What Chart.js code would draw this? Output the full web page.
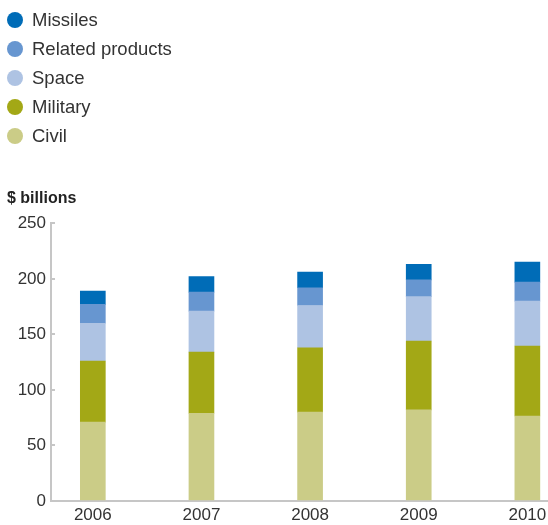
<!DOCTYPE html>
<html>
<head>
<meta charset="utf-8">
<title>$ billions</title>
<script src="https://cdn.jsdelivr.net/npm/chart.js@4.4.1/dist/chart.umd.min.js"></script>
<style>
  html, body { margin: 0; padding: 0; background: #fff; }
  #wrap { position: relative; width: 548px; height: 525px; }
  #chart { position: absolute; left: 0; top: 0; }
  #legend { position: absolute; left: 7px; top: 0; font-family: "Liberation Sans", Arial, sans-serif; font-size: 18.5px; color: #333; }
  .item { position: absolute; left: 0; height: 20px; display: flex; align-items: center; white-space: nowrap; }
  .dot { width: 16px; height: 16px; border-radius: 50%; margin-right: 9px; }
</style>
</head>
<body>
<div id="wrap">
  <canvas id="chart" width="548" height="525"></canvas>
  <div id="legend"></div>
</div>
<script>
const years = ['2006', '2007', '2008', '2009', '2010'];
const civil = [71, 79, 80, 82, 76.5];
const military = [55, 55, 58, 62, 63];
const space = [34, 37, 38, 40, 40.5];
const related = [17, 17, 16, 15, 17];
const missiles = [12, 14, 14, 14, 18];
const yTicks = [0, 50, 100, 150, 200, 250];

// stacking order, bottom to top
const seriesNames = ['Civil', 'Military', 'Space', 'Related products', 'Missiles'];
const seriesValues = [civil, military, space, related, missiles];
const seriesColors = ['#cbcc87', '#a3a816', '#aec3e3', '#6796d0', '#006cb7'];

const FONT = '"Liberation Sans", Arial, sans-serif';
const AXIS = '#c6c6c6';

// legend lists the top segment first
const legend = document.getElementById('legend');
seriesNames.slice().reverse().forEach((name, i) => {
    const k = seriesNames.length - 1 - i;
    const item = document.createElement('div');
    item.className = 'item';
    item.style.top = (10 + i * 29) + 'px';
    const dot = document.createElement('span');
    dot.className = 'dot';
    dot.style.background = seriesColors[k];
    item.appendChild(dot);
    item.appendChild(document.createTextNode(name));
    legend.appendChild(item);
});

const datasets = seriesNames.map((name, k) => ({
    label: name,
    data: seriesValues[k].map((v, i) => ({ x: i, y: v })),
    backgroundColor: seriesColors[k],
    borderWidth: 0,
    barThickness: 25
}));

new Chart(document.getElementById('chart').getContext('2d'), {
    type: 'bar',
    data: { datasets },
    options: {
        responsive: false,
        animation: false,
        layout: { padding: { left: 7, top: 176, right: 0, bottom: 0 } },
        plugins: {
            legend: { display: false },
            tooltip: { enabled: false },
            title: {
                display: true,
                text: '$ billions',
                align: 'start',
                color: '#222',
                font: { family: FONT, size: 16, weight: 'bold' },
                padding: { top: 13.4, bottom: 14.7 }
            }
        },
        scales: {
            x: {
                type: 'linear',
                stacked: true,
                offset: false,
                min: -0.385,
                max: 4.19,
                grid: { drawOnChartArea: false, drawTicks: false },
                border: { color: AXIS, width: 2 },
                afterBuildTicks: s => { s.ticks = years.map((_, i) => ({ value: i })); },
                afterFit: s => { s.paddingLeft = 0; s.paddingRight = 0; s.height = 24; },
                ticks: {
                    callback: v => years[v],
                    font: { family: FONT, size: 17 },
                    color: '#333',
                    padding: 4,
                    maxRotation: 0
                }
            },
            y: {
                stacked: true,
                min: 0,
                max: 250,
                afterBuildTicks: s => { s.ticks = yTicks.map(v => ({ value: v })); },
                afterFit: s => { s.width = 44; s.paddingTop = 0; s.paddingBottom = 0; },
                grid: { drawOnChartArea: false, tickLength: -4, color: AXIS, lineWidth: 2 },
                border: { color: AXIS, width: 2 },
                ticks: {
                    font: { family: FONT, size: 17 },
                    color: '#333',
                    padding: 9
                }
            }
        }
    }
});
</script>
</body>
</html>
